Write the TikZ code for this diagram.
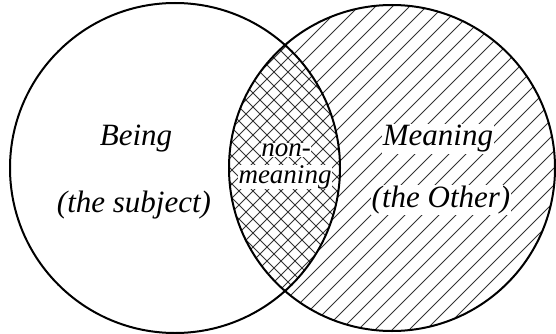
\documentclass[tikz,border=0pt]{standalone}
\usepackage{fontspec}
\setmainfont{Liberation Serif}
\begin{document}
\begin{tikzpicture}[x=1pt,y=-1pt,
  ring/.style={draw=black,line width=2pt},
  hatch/.style={draw=black!80,line width=0.75pt},
  lbl/.style={font=\fontsize{31}{33}\selectfont\itshape,inner sep=1pt},
  lenslbl/.style={font=\fontsize{27}{24}\selectfont\itshape,inner sep=0.5pt,fill=white}
]
\useasboundingbox (0,0) rectangle (556,334);
\coordinate (cl) at (175,168);
\coordinate (cr) at (392,168);
% right-only diagonal hatch
\begin{scope}
  \clip (cr) circle (163);
  \foreach \k in {-400,-383,...,600}
    \draw[hatch] (\k,340) -- (\k+340,0);
  \fill[white] (cl) circle (165);
\end{scope}
% lens crosshatch
\begin{scope}
  \clip (cr) circle (163);
  \clip (cl) circle (165);
  \foreach \k in {-400,-386,...,700}{
    \draw[hatch] (\k,340) -- (\k+340,0);
    \draw[hatch] (\k,0) -- (\k+340,340);
  }
\end{scope}
\draw[ring] (cl) circle (165);
\draw[ring] (cr) circle (163);
\node[lbl] (being) at (136,139) {Being};
\node[lbl] (subj) at (134,205) {(the subject)};
\node[lbl,fill=white] (mean) at (438,139) {Meaning};
\node[lbl,fill=white] (other) at (441,200) {(the Other)};
\node[lenslbl] (non) at (286,150) {non-};
\node[lenslbl] (nm) at (285,177) {meaning};
\end{tikzpicture}
\end{document}
